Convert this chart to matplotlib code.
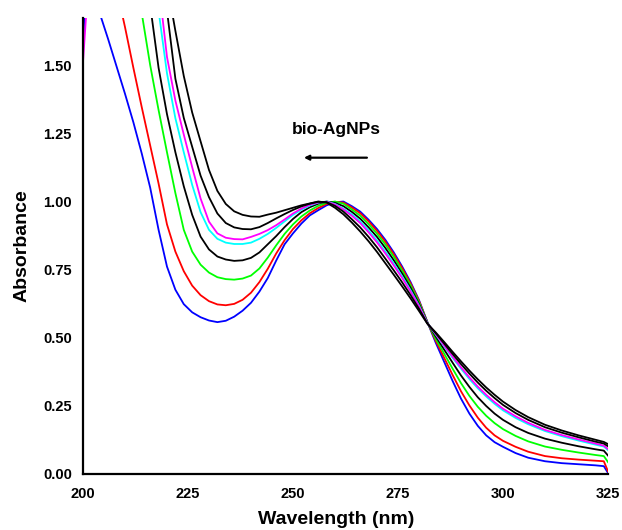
import matplotlib
matplotlib.use("Agg")
import matplotlib.pyplot as plt

plt.rcParams['font.family'] = ['Liberation Sans', 'DejaVu Sans']
plt.rcParams['font.weight'] = 'bold'

# wavelength grid (nm)
wl = [200, 201, 202, 204, 206, 208, 210, 212, 214, 216, 218, 220, 222, 224, 226, 228,
      230, 232, 234, 236, 238, 240, 242, 244, 246, 248, 250, 252, 254, 256, 258, 260,
      262, 264, 266, 268, 270, 272, 274, 276, 278, 280, 282, 284, 286, 288, 290, 292,
      294, 296, 298, 300, 303, 306, 310, 314, 318, 322, 324, 325]

# absorbance spectra
blue = [1.55, 1.95, 1.85, 1.69, 1.595, 1.495, 1.395, 1.29, 1.175, 1.05, 0.895, 0.76, 0.675, 0.622, 0.592, 0.574,
        0.562, 0.556, 0.561, 0.576, 0.598, 0.627, 0.668, 0.718, 0.782, 0.842, 0.882, 0.918, 0.948, 0.967, 0.985, 0.996,
        0.999, 0.982, 0.962, 0.932, 0.898, 0.858, 0.812, 0.760, 0.703, 0.637, 0.556, 0.480, 0.410, 0.340, 0.275, 0.220,
        0.175, 0.140, 0.115, 0.098, 0.075, 0.058, 0.045, 0.038, 0.034, 0.030, 0.027, 0.002]
red = [2.3, 2.25, 2.2, 2.05, 1.92, 1.78, 1.64, 1.49, 1.345, 1.205, 1.065, 0.915, 0.815, 0.743, 0.69, 0.655,
       0.633, 0.621, 0.618, 0.623, 0.638, 0.664, 0.703, 0.752, 0.808, 0.857, 0.898, 0.93, 0.956, 0.975, 0.99, 0.998,
       0.995, 0.977, 0.956, 0.926, 0.891, 0.851, 0.805, 0.754, 0.698, 0.634, 0.556, 0.487, 0.425, 0.362, 0.302, 0.25,
       0.205, 0.168, 0.14, 0.12, 0.098, 0.08, 0.064, 0.056, 0.051, 0.047, 0.045, 0.008]
green = [2.6, 2.55, 2.5, 2.4, 2.3, 2.2, 2.05, 1.87, 1.69, 1.50, 1.335, 1.18, 1.03, 0.895, 0.815, 0.767,
         0.738, 0.721, 0.714, 0.712, 0.716, 0.727, 0.753, 0.793, 0.838, 0.88, 0.915, 0.944, 0.966, 0.983, 0.994, 0.999,
         0.991, 0.97, 0.947, 0.916, 0.881, 0.841, 0.796, 0.745, 0.691, 0.629, 0.555, 0.494, 0.44, 0.385, 0.332, 0.285,
         0.245, 0.212, 0.185, 0.163, 0.138, 0.118, 0.099, 0.087, 0.077, 0.068, 0.064, 0.042]
black1 = [2.8, 2.75, 2.7, 2.6, 2.5, 2.4, 2.3, 2.15, 1.95, 1.72, 1.49, 1.32, 1.18, 1.055, 0.95, 0.87,
          0.823, 0.797, 0.786, 0.781, 0.783, 0.792, 0.812, 0.842, 0.872, 0.905, 0.935, 0.96, 0.978, 0.991, 0.999, 0.994,
          0.982, 0.961, 0.936, 0.904, 0.869, 0.828, 0.783, 0.734, 0.682, 0.623, 0.554, 0.503, 0.455, 0.407, 0.36, 0.318,
          0.28, 0.248, 0.22, 0.197, 0.17, 0.149, 0.128, 0.113, 0.1, 0.089, 0.084, 0.066]
cyan = [2.9, 2.85, 2.8, 2.7, 2.6, 2.5, 2.4, 2.3, 2.15, 1.95, 1.70, 1.47, 1.305, 1.18, 1.06, 0.96,
        0.895, 0.862, 0.848, 0.843, 0.843, 0.848, 0.862, 0.88, 0.902, 0.926, 0.95, 0.969, 0.984, 0.995, 0.999, 0.99,
        0.973, 0.952, 0.926, 0.893, 0.856, 0.815, 0.771, 0.724, 0.673, 0.617, 0.553, 0.51, 0.467, 0.425, 0.385, 0.347,
        0.313, 0.283, 0.256, 0.232, 0.204, 0.181, 0.156, 0.137, 0.121, 0.106, 0.099, 0.086]
magenta = [1.51, 1.74, 2.0, 2.3, 2.5, 2.55, 2.5, 2.4, 2.25, 2.05, 1.80, 1.53, 1.37, 1.245, 1.125, 1.01,
           0.925, 0.882, 0.866, 0.861, 0.86, 0.869, 0.88, 0.894, 0.912, 0.933, 0.955, 0.973, 0.987, 0.996, 0.998, 0.988,
           0.97, 0.947, 0.92, 0.886, 0.849, 0.808, 0.764, 0.718, 0.668, 0.614, 0.552, 0.512, 0.47, 0.429, 0.39, 0.353,
           0.319, 0.289, 0.262, 0.238, 0.21, 0.186, 0.16, 0.141, 0.125, 0.11, 0.102, 0.09]
black2 = [3.0, 2.95, 2.9, 2.8, 2.7, 2.6, 2.5, 2.4, 2.3, 2.15, 1.95, 1.70, 1.45, 1.306, 1.2, 1.094,
          1.015, 0.955, 0.92, 0.904, 0.898, 0.897, 0.905, 0.92, 0.937, 0.953, 0.968, 0.981, 0.991, 0.998, 0.997, 0.983,
          0.962, 0.934, 0.904, 0.869, 0.831, 0.789, 0.746, 0.702, 0.655, 0.605, 0.551, 0.515, 0.477, 0.439, 0.402, 0.367,
          0.334, 0.304, 0.277, 0.252, 0.222, 0.197, 0.17, 0.15, 0.133, 0.117, 0.11, 0.1]
black3 = [3.1, 3.05, 3.0, 2.9, 2.8, 2.7, 2.6, 2.5, 2.4, 2.25, 2.05, 1.80, 1.626, 1.46, 1.326, 1.22,
          1.115, 1.038, 0.99, 0.963, 0.95, 0.944, 0.943, 0.951, 0.958, 0.967, 0.976, 0.985, 0.992, 0.999, 0.995, 0.976,
          0.952, 0.922, 0.889, 0.853, 0.814, 0.772, 0.73, 0.687, 0.643, 0.597, 0.55, 0.518, 0.483, 0.447, 0.412, 0.378,
          0.346, 0.316, 0.289, 0.264, 0.233, 0.207, 0.179, 0.158, 0.14, 0.124, 0.116, 0.108]

series = [blue, red, green, black1, cyan, magenta, black2, black3]
colors = ['#0000FF', '#FF0000', '#00FF00', '#000000', '#00FFFF', '#FF00FF', '#000000', '#000000']

xticks = [200, 225, 250, 275, 300, 325]
yticks = [0.00, 0.25, 0.50, 0.75, 1.00, 1.25, 1.50]

fig = plt.figure(figsize=(6.22, 5.30), dpi=100)
ax = fig.add_axes([0.1334, 0.1066, 0.8441, 0.8594])

for ys, c in zip(series, colors):
    ax.plot(wl, ys, color=c, lw=1.3)

ax.set_xlim(200, 325)
ax.set_ylim(0, 1.673)
ax.set_xticks(xticks)
ax.set_yticks(yticks)
ax.set_yticklabels(['%.2f' % v for v in yticks])
ax.tick_params(length=0, labelsize=10.5)
ax.tick_params(axis='x', pad=10)
ax.tick_params(axis='y', pad=8)

for s in ['top', 'right']:
    ax.spines[s].set_visible(False)
for s in ['left', 'bottom']:
    ax.spines[s].set_linewidth(1.6)
    ax.spines[s].set_zorder(5)

ax.set_xlabel('Wavelength (nm)', fontsize=14, fontweight='bold')
ax.set_ylabel('Absorbance', fontsize=14, fontweight='bold')
ax.xaxis.set_label_coords(0.482, -0.083)
ax.yaxis.set_label_coords(-0.1, 0.5)

ax.text(260.2, 1.263, 'bio-AgNPs', fontsize=12.5, fontweight='bold', ha='center', va='center')
ax.annotate('', xy=(252.6, 1.16), xytext=(267.6, 1.16),
            arrowprops=dict(arrowstyle='-|>', color='black', lw=1.6, mutation_scale=7,
                            shrinkA=0, shrinkB=0))

fig.savefig('out.png', dpi=100)
